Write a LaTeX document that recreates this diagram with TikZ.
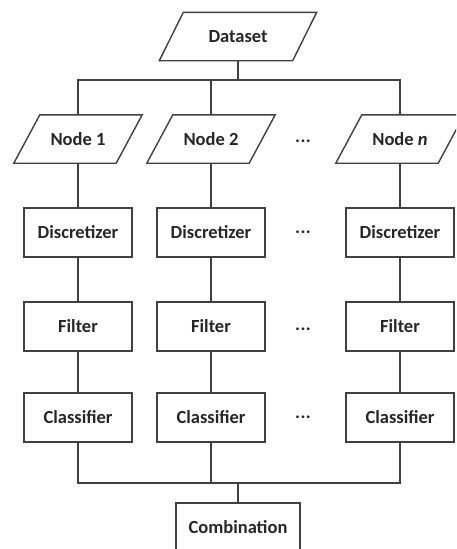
\documentclass[tikz,border=0pt]{standalone}
\usepackage{fontspec}
\setmainfont{Carlito}
\definecolor{linec}{HTML}{404040}
\definecolor{textc}{HTML}{262626}
\tikzset{
  lbl/.style={font=\fontsize{18.5}{22}\selectfont\bfseries, text=textc},
  box/.style={lbl, draw=linec, line width=1.4pt, minimum width=108pt, minimum height=49pt,
    inner sep=0pt},
  para/.style={lbl, minimum width=#1, minimum height=48pt, inner sep=0pt},
  conn/.style={draw=linec, line width=1.4pt},
  dots/.style={lbl, inner sep=0pt},
}
\newcommand{\paradraw}[2]{%
  \draw[conn] ([xshift=#2]#1.north west) -- (#1.north east) -- ([xshift=-#2]#1.south east) -- (#1.south west) -- cycle;}
\begin{document}
\begin{tikzpicture}[x=1pt,y=-1pt]
\useasboundingbox (0,0) rectangle (456,549);
\clip (0,0) rectangle (456,549);
% top
\node[para=157pt] (ds) at (238,36.5) {Dataset};
\paradraw{ds}{24pt}
\node[para=128pt] (n1) at (78,139) {Node 1};
\paradraw{n1}{26pt}
\node[para=128pt] (n2) at (211,139) {Node 2};
\paradraw{n2}{26pt}
\node[para=128pt] (nn) at (400,139) {Node \textit{n}};
\paradraw{nn}{26pt}
\node[dots] (d0) at (303,141) {.\kern0.5pt.\kern0.5pt.};
% discretizer
\node[box] (di1) at (78,232.5) {Discretizer};
\node[box] (di2) at (211,232.5) {Discretizer};
\node[box] (din) at (400,232.5) {Discretizer};
\node[dots] (d1) at (303,232.5) {.\kern0.5pt.\kern0.5pt.};
% filter
\node[box] (f1) at (78,326.5) {Filter};
\node[box] (f2) at (211,326.5) {Filter};
\node[box] (fn) at (400,326.5) {Filter};
\node[dots] (d2) at (303,329) {.\kern0.5pt.\kern0.5pt.};
% classifier
\node[box] (c1) at (78,417.5) {Classifier};
\node[box] (c2) at (211,417.5) {Classifier};
\node[box] (cn) at (400,417.5) {Classifier};
\node[dots] (d3) at (303,417.5) {.\kern0.5pt.\kern0.5pt.};
% combination
\node[box, minimum width=124pt] (comb) at (238,527.5) {Combination};
% connectors top
\coordinate (tb) at (238,80);
\draw[conn] (ds.south) -- (tb);
\draw[conn] (n1.north) |- (tb);
\draw[conn] (nn.north) |- (tb);
\draw[conn] (n2.north) -- (n2.north |- tb);
% columns
\foreach \a/\b in {n1/di1,di1/f1,f1/c1,n2/di2,di2/f2,f2/c2,nn/din,din/fn,fn/cn}{
  \draw[conn] (\a.south) -- (\a.south |- \b.north);
}
% bottom bus
\coordinate (bb) at (238,483);
\draw[conn] (c1.south) |- (bb);
\draw[conn] (cn.south) |- (bb);
\draw[conn] (c2.south) -- (c2.south |- bb);
\draw[conn] (bb) -- (comb.north);
\end{tikzpicture}
\end{document}
